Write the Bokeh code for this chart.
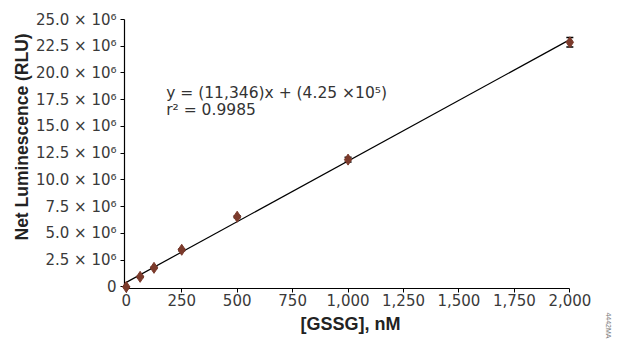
from bokeh.plotting import figure
from bokeh.models import Range1d, FixedTicker, Label, Whisker, ColumnDataSource, TeeHead, Title
from bokeh.embed import file_html
from bokeh.resources import INLINE

# ---- data ----
gssg_nM = [0, 62.5, 125, 250, 500, 1000, 2000]
net_rlu = [0, 0.94e6, 1.78e6, 3.47e6, 6.56e6, 11.9e6, 22.87e6]
rlu_err = [0, 0.05e6, 0.07e6, 0.08e6, 0.1e6, 0.22e6, 0.45e6]
fit_slope = 11346
fit_intercept = 4.25e5

x_ticks = [0, 250, 500, 750, 1000, 1250, 1500, 1750, 2000]
x_tick_labels = ["0", "250", "500", "750", "1,000", "1,250", "1,500", "1,750", "2,000"]
y_ticks = [0, 2.5e6, 5.0e6, 7.5e6, 10.0e6, 12.5e6, 15.0e6, 17.5e6, 20.0e6, 22.5e6, 25.0e6]
y_tick_labels = ["0", "2.5 \u00d7 10\u2076", "5.0 \u00d7 10\u2076", "7.5 \u00d7 10\u2076",
                 "10.0 \u00d7 10\u2076", "12.5 \u00d7 10\u2076", "15.0 \u00d7 10\u2076",
                 "17.5 \u00d7 10\u2076", "20.0 \u00d7 10\u2076", "22.5 \u00d7 10\u2076",
                 "25.0 \u00d7 10\u2076"]

equation_text = "y = (11,346)x + (4.25 \u00d710\u2075)"
r2_text = "r\u00b2 = 0.9985"
x_title = "[GSSG], nM"
y_title = "Net Luminescence (RLU)"
code_text = "4442MA"

FONT = "Liberation Sans"
TICK_FONT = "DejaVu Sans"
TICK_COLOR = "#3a3a3a"

p = figure(width=644, height=340,
           x_range=Range1d(-8, 2030), y_range=Range1d(-0.15e6, 25e6),
           output_backend="svg", toolbar_location=None,
           min_border_left=124, min_border_right=68,
           min_border_top=19, min_border_bottom=52)
p.outline_line_color = None
p.xgrid.visible = False
p.ygrid.visible = False
p.background_fill_color = "white"
p.border_fill_color = "white"

for ax in (p.xaxis[0], p.yaxis[0]):
    ax.axis_line_color = "black"
    ax.axis_line_width = 1.2
    ax.major_tick_line_color = "black"
    ax.major_tick_in = 0
    ax.major_tick_out = 4
    ax.minor_tick_line_color = None
    ax.major_label_text_font = TICK_FONT
    ax.major_label_text_font_size = "15px"
    ax.major_label_text_color = TICK_COLOR

p.xaxis[0].ticker = FixedTicker(ticks=x_ticks)
p.xaxis[0].major_label_overrides = {t: l for t, l in zip(x_ticks, x_tick_labels)}
p.xaxis[0].bounds = (-8, 2000)
p.xaxis[0].major_label_standoff = 1

p.yaxis[0].ticker = FixedTicker(ticks=y_ticks)
p.yaxis[0].major_label_overrides = {t: l for t, l in zip(y_ticks, y_tick_labels)}
p.yaxis[0].bounds = (-0.15e6, 25e6)
p.yaxis[0].major_label_standoff = 4

# x title below the axis
p.add_layout(Title(text=x_title, align="center", text_font=FONT,
                   text_font_size="18px", text_font_style="bold",
                   text_color="#222222", standoff=6), "below")

# y title as a side title so it can be shifted like the reference
p.add_layout(Title(text=y_title, align="left", offset=48, text_font=FONT,
                   text_font_size="17.5px", text_font_style="bold",
                   text_color="#222222", standoff=1), "left")

# figure code at the far right
p.add_layout(Title(text=code_text, align="right", offset=-50, text_font=FONT,
                   text_font_size="7px", text_font_style="normal",
                   text_color="#777777", standoff=56), "right")

# fit line
fit_x = [gssg_nM[0], gssg_nM[-1]]
fit_y = [fit_slope * v + fit_intercept for v in fit_x]
p.line(fit_x, fit_y, line_color="black", line_width=1.2)

# error bars
src = ColumnDataSource(dict(
    x=gssg_nM, y=net_rlu,
    upper=[a + b for a, b in zip(net_rlu, rlu_err)],
    lower=[a - b for a, b in zip(net_rlu, rlu_err)]))
p.add_layout(Whisker(source=src, base="x", upper="upper", lower="lower",
                     line_color="black", line_width=1.2,
                     upper_head=TeeHead(size=7, line_color="black", line_width=1.5),
                     lower_head=TeeHead(size=7, line_color="black", line_width=1.5)))

# points
p.scatter("x", "y", source=src, marker="diamond", size=11,
          fill_color="#7b3a2b", line_color="#7b3a2b", level="overlay")

# equation
p.add_layout(Label(x=180, y=18.94e6, text=equation_text, text_font="DejaVu Sans",
                   text_font_size="15.5px", text_color="#333333",
                   text_baseline="top", text_align="left"))
p.add_layout(Label(x=180, y=17.38e6, text=r2_text, text_font="DejaVu Sans",
                   text_font_size="15.5px", text_color="#333333",
                   text_baseline="top", text_align="left"))

open("out.html", "w").write(file_html(p, INLINE))
